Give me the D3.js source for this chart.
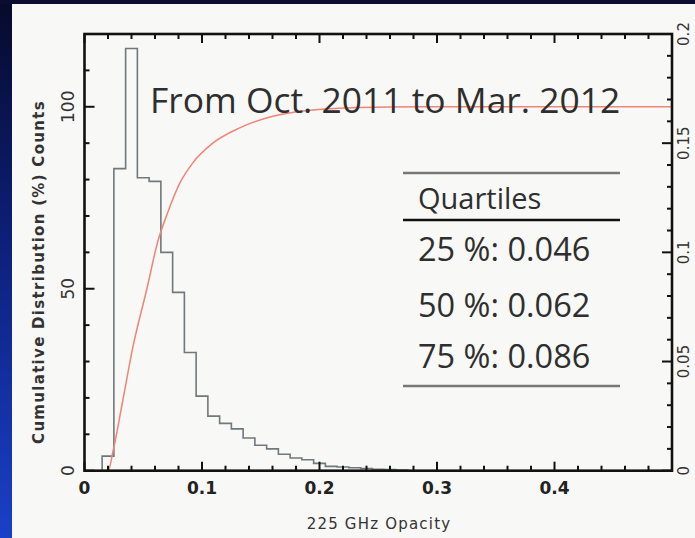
<!DOCTYPE html>
<html><head><meta charset="utf-8">
<script src="https://cdn.jsdelivr.net/npm/d3@7"></script>
<style>
html,body{margin:0;padding:0;background:#f7f7f5;overflow:hidden;width:695px;height:538px;}
svg{display:block;position:absolute;left:0;top:0;}
</style></head>
<body>
<svg id="c" width="695" height="538"></svg>
<script>
// ---- data ----
const binStarts = [0.015,0.025,0.035,0.045,0.055,0.065,0.075,0.085,0.095,0.105,0.115,0.125,0.135,0.145,0.155,0.165,0.175,0.185,0.195,0.205,0.215,0.225,0.235,0.245,0.255,0.265];
const binCounts = [4,83,116,80.5,79.5,60,49,32.5,20.5,15,13,11.5,9,7,6,4.5,3.5,3,2,1.2,1,0.8,0.6,0.4,0.3,0.2];
const binWidth = 0.01;
const cdfX = [0,0.016,0.020,0.0245,0.0327,0.0412,0.0531,0.0624,0.0709,0.0811,0.0922,0.1092,0.1321,0.1602,0.19,0.234,0.285,0.5];
const cdfY = [0,0,0,5.7,19.5,34,50,63,71,79,84.6,90,94.2,97.4,99,99.8,100,100];
const xTicks = [0,0.1,0.2,0.3,0.4];
const xTickLabels = ["0","0.1","0.2","0.3","0.4"];
const yTicks = [0,50,100];
const yTickLabels = ["0","50","100"];
const y2Ticks = [0,0.05,0.1,0.15,0.2];
const y2TickLabels = ["0","0.05","0.1","0.15","0.2"];
const titleText = "From Oct. 2011 to Mar. 2012";
const tableHeader = "Quartiles";
const quartileRows = ["25 %: 0.046","50 %: 0.062","75 %: 0.086"];
const xLabel = "225 GHz Opacity";
const yLabel = "Cumulative Distribution (%) Counts";

// ---- layout ----
const svg = d3.select("#c");
const L = 84.5, R = 672, T = 34, B = 470.7;
const x = d3.scaleLinear().domain([0,0.5]).range([L,R]);
const y = d3.scaleLinear().domain([0,120]).range([B,T]);
const y2 = d3.scaleLinear().domain([0,0.2]).range([B,T]);

// background + slide frame
const defs = svg.append("defs");
const g = defs.append("linearGradient").attr("id","lb").attr("x1",0).attr("y1",0).attr("x2",0).attr("y2",1);
g.append("stop").attr("offset","0%").attr("stop-color","#070a2a");
g.append("stop").attr("offset","45%").attr("stop-color","#0d1f7a");
g.append("stop").attr("offset","100%").attr("stop-color","#1a40c8");
svg.append("rect").attr("width",695).attr("height",538).attr("fill","#f8f8f6");
svg.append("rect").attr("x",0).attr("y",0).attr("width",12).attr("height",538).attr("fill","url(#lb)");
svg.append("rect").attr("x",0).attr("y",0).attr("width",695).attr("height",4).attr("fill","#0a0d30");

// histogram (step line)
const pts = [[0,0]];
binStarts.forEach((s,i)=>{ pts.push([s,binCounts[i]]); });
pts.push([binStarts[binStarts.length-1]+binWidth,0]);
pts.push([0.5,0]);
const stepLine = d3.line().x(d=>x(d[0])).y(d=>y(d[1])).curve(d3.curveStepAfter);
svg.append("path").attr("d",stepLine(pts)).attr("fill","none")
  .attr("stroke","#6f787c").attr("stroke-width",1.6);

// cdf
const cdf = cdfX.map((v,i)=>[v,cdfY[i]]);
svg.append("path").attr("d",d3.line().x(d=>x(d[0])).y(d=>y(d[1])).curve(d3.curveMonotoneX)(cdf))
  .attr("fill","none").attr("stroke","#f08476").attr("stroke-width",1.5);

// axes (IDL style, inward ticks on all sides)
const axG = svg.append("g");
function ticksH(yPos, dir){
  const minor = d3.range(0,0.5001,0.02);
  axG.selectAll(null).data(minor).enter().append("line")
    .attr("x1",d=>x(d)).attr("x2",d=>x(d))
    .attr("y1",yPos).attr("y2",d=>yPos+dir*(Math.abs(Math.round(d*10)-d*10)<1e-6?9:5))
    .attr("stroke","#111").attr("stroke-width",2);
}
ticksH(B,-1); ticksH(T,1);
const yMinor = d3.range(0,120.01,10);
axG.selectAll(null).data(yMinor).enter().append("line")
  .attr("y1",d=>y(d)).attr("y2",d=>y(d)).attr("x1",L).attr("x2",d=>L+(d%50===0?10:5))
  .attr("stroke","#111").attr("stroke-width",2);
const y2Minor = d3.range(0,0.2001,0.01);
axG.selectAll(null).data(y2Minor).enter().append("line")
  .attr("y1",d=>y2(d)).attr("y2",d=>y2(d)).attr("x1",R).attr("x2",d=>R-(Math.abs(Math.round(d*20)-d*20)<1e-6?10:5))
  .attr("stroke","#111").attr("stroke-width",2);
axG.append("rect").attr("x",L).attr("y",T).attr("width",R-L).attr("height",B-T)
  .attr("fill","none").attr("stroke","#111").attr("stroke-width",2.6);

// tick labels
const tf = "'DejaVu Sans', 'Liberation Sans', sans-serif";
svg.selectAll(null).data(xTicks).enter().append("text")
  .attr("x",d=>x(d)).attr("y",494).attr("text-anchor","middle")
  .attr("font-family",tf).attr("font-size",17).attr("font-weight","bold").attr("fill","#222")
  .text((d,i)=>xTickLabels[i]);
svg.selectAll(null).data(yTicks).enter().append("text")
  .attr("transform",d=>`translate(74,${y(d)}) rotate(-90)`).attr("text-anchor","middle")
  .attr("font-family",tf).attr("font-size",17).attr("fill","#333")
  .text((d,i)=>yTickLabels[i]);
svg.selectAll(null).data(y2Ticks).enter().append("text")
  .attr("transform",d=>`translate(689,${y2(d)}) rotate(-90)`).attr("text-anchor","middle")
  .attr("font-family",tf).attr("font-size",15).attr("fill","#333")
  .text((d,i)=>y2TickLabels[i]);

// axis titles
svg.append("text").attr("x",379).attr("y",529).attr("text-anchor","middle")
  .attr("font-family",tf).attr("font-size",15).attr("letter-spacing",1.2).attr("fill","#333").text(xLabel);
svg.append("text").attr("transform","translate(44,272) rotate(-90)").attr("text-anchor","middle")
  .attr("font-family",tf).attr("font-size",15).attr("font-weight","bold").attr("letter-spacing",1.3).attr("fill","#333").text(yLabel);

// title + table
const bf = "'Open Sans', Lato, sans-serif";
svg.append("text").attr("x",150).attr("y",113).attr("font-family",bf).attr("font-size",35.4)
  .attr("fill","#2e2e2e").text(titleText);
svg.append("line").attr("x1",403).attr("x2",620).attr("y1",173).attr("y2",173).attr("stroke","#777").attr("stroke-width",2.4);
svg.append("text").attr("x",418).attr("y",209).attr("font-family",bf).attr("font-size",29).attr("fill","#2e2e2e").text(tableHeader);
svg.append("line").attr("x1",403).attr("x2",620).attr("y1",220).attr("y2",220).attr("stroke","#111").attr("stroke-width",2.4);
const rowY = [261,317,368];
svg.selectAll(null).data(quartileRows).enter().append("text")
  .attr("x",418).attr("y",(d,i)=>rowY[i]).attr("font-family",bf).attr("font-size",32.5).attr("fill","#2e2e2e")
  .text(d=>d);
svg.append("line").attr("x1",403).attr("x2",620).attr("y1",386).attr("y2",386).attr("stroke","#777").attr("stroke-width",2.4);
</script>
</body></html>
